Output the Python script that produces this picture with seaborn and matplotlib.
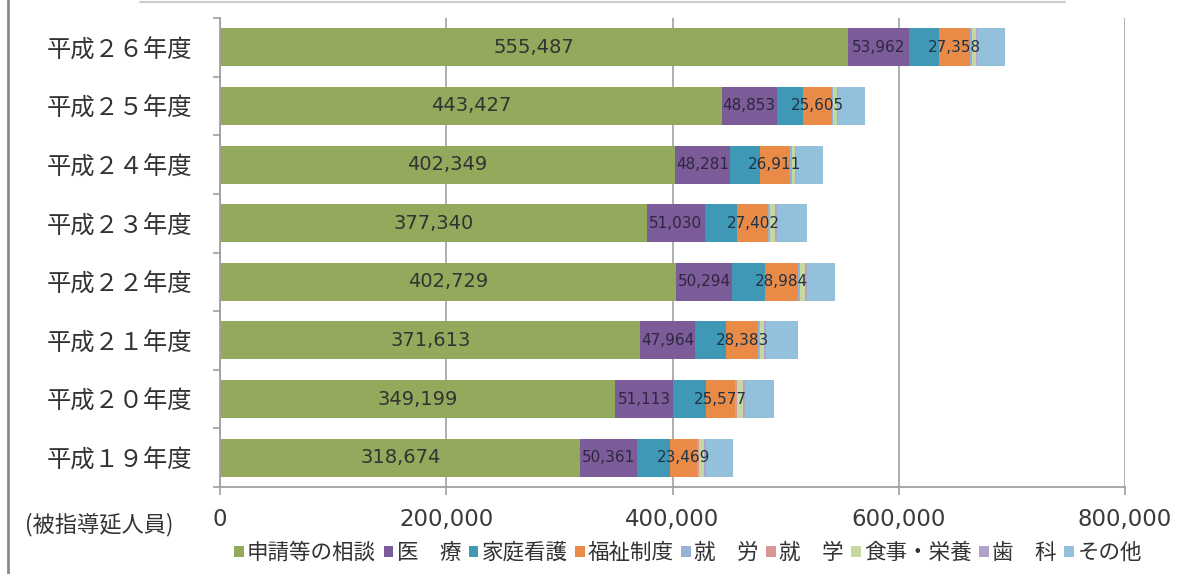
import numpy as np
import pandas as pd
import matplotlib
matplotlib.use('Agg')
import matplotlib.pyplot as plt
import seaborn as sns
from matplotlib.lines import Line2D
from matplotlib.ticker import FuncFormatter, FixedLocator

# data (unlabelled segments estimated)
years = ['平成２６年度', '平成２５年度', '平成２４年度', '平成２３年度',
         '平成２２年度', '平成２１年度', '平成２０年度', '平成１９年度']
soudan = [555487, 443427, 402349, 377340, 402729, 371613, 349199, 318674]
iryo = [53962, 48853, 48281, 51030, 50294, 47964, 51113, 50361]
katei = [26500, 23000, 26500, 29000, 29000, 28000, 29000, 29000]
fukushi = [27358, 25605, 26911, 27402, 28984, 28383, 25577, 23469]
shuro = [1000, 900, 900, 1200, 1200, 1100, 1500, 1400]
shugaku = [500, 500, 500, 500, 500, 500, 500, 500]
shokuji = [3500, 3000, 3000, 4000, 4500, 3500, 5000, 4500]
shika = [1200, 1000, 1000, 1500, 1300, 1300, 1800, 1600]
sonota = [24000, 24000, 23500, 27000, 25000, 29000, 26000, 24000]

cats = ['申請等の相談', '医\u3000療', '家庭看護', '福祉制度', '就\u3000労',
        '就\u3000学', '食事・栄養', '歯\u3000科', 'その他']
colors = ['#93A95C', '#7B5C98', '#3E98B6', '#E98A46', '#98B2D6',
          '#D99694', '#C5D89F', '#B3A2C7', '#93C1DB']

sns.set_theme(style='white')
plt.rcParams['font.family'] = ['Noto Sans CJK JP', 'DejaVu Sans']

df = pd.DataFrame({'year': years})
for c, v in zip(cats, [soudan, iryo, katei, fukushi, shuro, shugaku, shokuji, shika, sonota]):
    df[c] = v
cum = df[cats].cumsum(axis=1)

fig = plt.figure(figsize=(11.77, 5.74), dpi=100)
ax = fig.add_axes([220/1177, 1-487/574, 905/1177, 469/574])

# stacked bars: draw cumulative totals from the longest down
for c, col in reversed(list(zip(cats, colors))):
    sns.barplot(x=cum[c], y=df['year'], order=years, orient='h', color=col,
                saturation=1, width=0.65, linewidth=0, errorbar=None,
                label=c, ax=ax)
if ax.get_legend() is not None:
    ax.get_legend().remove()

for i in range(len(years)):
    ax.text(soudan[i]/2, i, f'{soudan[i]:,}', ha='center', va='center',
            fontsize=14, color='#333333', family='DejaVu Sans')
    ax.text(cum.iloc[i, 0] + iryo[i]/2, i, f'{iryo[i]:,}', ha='center', va='center',
            fontsize=11, color='#2e2640', family='DejaVu Sans')
    ax.text(cum.iloc[i, 2] + fukushi[i]/2, i, f'{fukushi[i]:,}', ha='center', va='center',
            fontsize=11, color='#1f3346', family='DejaVu Sans')

ax.set_xlim(0, 800000)
ax.set_xlabel('')
ax.set_ylabel('')
ax.xaxis.set_major_locator(FixedLocator([0, 200000, 400000, 600000, 800000]))
ax.xaxis.set_major_formatter(FuncFormatter(lambda v, p: f'{int(v):,}'))
ax.xaxis.grid(True, color='#a8a8a8', lw=1.3)
ax.set_axisbelow(True)
for lab in ax.get_xticklabels():
    lab.set_family('DejaVu Sans')
ax.tick_params(axis='x', which='major', direction='out', length=6, width=1.2,
               color='#a0a0a0', labelsize=16.5, labelcolor='#3a3a3a', pad=9, bottom=True)
ax.yaxis.set_minor_locator(FixedLocator(np.arange(-0.5, len(years), 1)))
ax.tick_params(axis='y', which='major', length=0, labelsize=17.5, labelcolor='#333333', pad=20)
ax.tick_params(axis='y', which='minor', direction='out', length=5, width=1.2,
               color='#a0a0a0', left=True)
for s in ['top', 'right']:
    ax.spines[s].set_visible(False)
for s in ['left', 'bottom']:
    ax.spines[s].set_color('#a0a0a0')
    ax.spines[s].set_linewidth(1.3)

fig.text(25/1177, 1-525/574, '(被指導延人員)', fontsize=16, va='center', ha='left', color='#333333')

handles, labels = ax.get_legend_handles_labels()
hmap = dict(zip(labels, handles))
fig.legend([hmap[c] for c in cats], cats, ncol=9, loc='center',
           bbox_to_anchor=(688/1177, 1-553/574), frameon=False, fontsize=15.5,
           handlelength=0.45, handleheight=0.45, handletextpad=0.15,
           columnspacing=0.35, borderaxespad=0, borderpad=0, labelcolor='#333333')

# frame remnants of the original picture
fig.add_artist(Line2D([8/1177, 8/1177], [0, 1], color='#8a8a8a', lw=2))
fig.add_artist(Line2D([140/1177, 1065/1177], [1-2/574, 1-2/574], color='#cccccc', lw=1.5))

fig.savefig('out.png', dpi=100)
